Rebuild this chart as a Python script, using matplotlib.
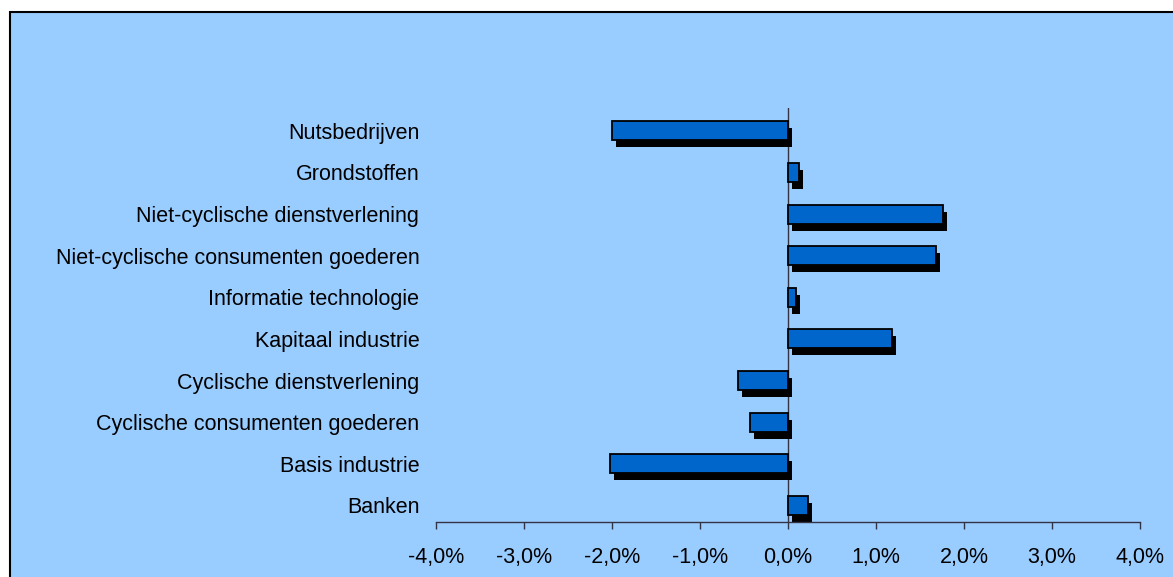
import matplotlib
matplotlib.use("Agg")
import matplotlib.pyplot as plt
import matplotlib.transforms as mtransforms
from matplotlib.patches import Rectangle
from matplotlib.ticker import FuncFormatter

# Sectors, bottom to top as drawn
sectors = [
    "Banken",
    "Basis industrie",
    "Cyclische consumenten goederen",
    "Cyclische dienstverlening",
    "Kapitaal industrie",
    "Informatie technologie",
    "Niet-cyclische consumenten goederen",
    "Niet-cyclische dienstverlening",
    "Grondstoffen",
    "Nutsbedrijven",
]
# relative performance, in percent
values = [0.23, -2.02, -0.43, -0.57, 1.18, 0.09, 1.68, 1.76, 0.12, -2.0]
x_ticks = [-4, -3, -2, -1, 0, 1, 2, 3, 4]

BG = "#99CCFF"
BAR = "#0066CC"
FS = 15.5

plt.rcParams["font.family"] = ["Liberation Sans", "DejaVu Sans"]

fig = plt.figure(figsize=(11.73, 5.77), dpi=100)
fig.patch.set_facecolor("white")

# chart area panel with black border on the left and top
W, H = 1173, 577
panel = Rectangle((10 / W, -0.05), 1.2, 1 - 12 / H + 0.05,
                  transform=fig.transFigure, facecolor=BG,
                  edgecolor="black", linewidth=1.5, zorder=-10)
fig.add_artist(panel)

ax = fig.add_axes([436 / W, 55 / H, 704 / W, 414 / H])
ax.set_zorder(5)
ax.set_facecolor("none")

pos = list(range(len(sectors)))
h = 0.46

# shadow: same bars shifted right and down a few pixels
shadow_tr = ax.transData + mtransforms.ScaledTranslation(4 / 100, -7 / 100, fig.dpi_scale_trans)
ax.barh(pos, values, height=h, color="black", edgecolor="black",
        linewidth=0, transform=shadow_tr, zorder=2)
ax.barh(pos, values, height=h, color=BAR, edgecolor="black",
        linewidth=1.3, zorder=3)

ax.axvline(0, color="#333344", linewidth=1.0, zorder=1)

ax.set_xlim(-4, 4)
ax.set_ylim(-0.40, 9.55)
ax.set_xticks(x_ticks)
ax.xaxis.set_major_formatter(FuncFormatter(lambda v, _: f"{v:.1f}%".replace(".", ",")))
ax.tick_params(axis="x", direction="out", length=5, width=1, color="#333344",
               pad=13, labelsize=FS, labelcolor="black")

ax.set_yticks(pos)
ax.set_yticklabels(sectors)
ax.tick_params(axis="y", length=0, pad=12, labelsize=FS, labelcolor="black")

for side in ("left", "right", "top"):
    ax.spines[side].set_visible(False)
ax.spines["bottom"].set_color("#333344")
ax.spines["bottom"].set_linewidth(1.0)
ax.spines["bottom"].set_zorder(4)

fig.savefig("out.png", dpi=100, facecolor=fig.get_facecolor())
